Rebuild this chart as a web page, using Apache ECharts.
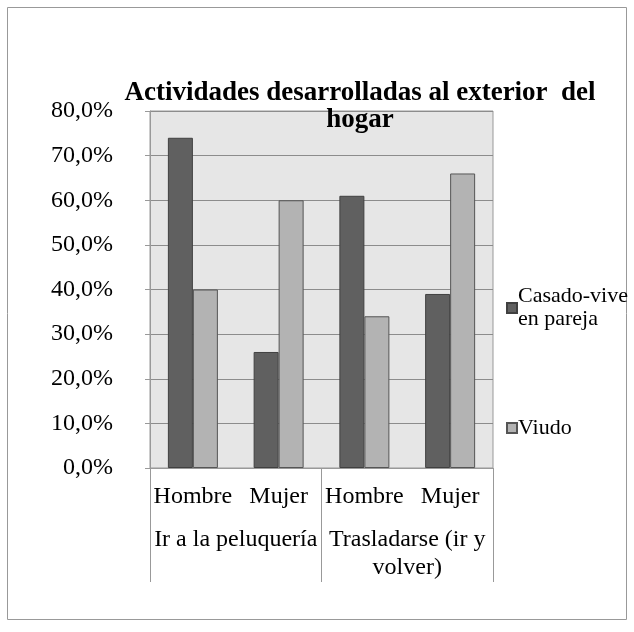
<!DOCTYPE html>
<html>
<head>
<meta charset="utf-8">
<script src="https://cdn.jsdelivr.net/npm/echarts@6/dist/echarts.min.js"></script>
<style>
  html, body { margin: 0; padding: 0; background: #fff; }
  #chart { width: 634px; height: 632px; }
</style>
</head>
<body>
<div id="chart"></div>
<script>
// datos
const subCategories = ['Hombre', 'Mujer', 'Hombre', 'Mujer']
const groupCategories = ['Ir a la peluquería', 'Trasladarse (ir y\nvolver)']
const casadoValues = [74, 26, 61, 39]
const viudoValues = [40, 60, 34, 66]
const seriesNames = ['Casado-vive en pareja', 'Viudo']

const font = 'Liberation Serif'
const chart = echarts.init(document.getElementById('chart'))

const option = {
  animation: false,
  graphic: [
    {
      type: 'rect',
      shape: { x: 7.5, y: 7.5, width: 619, height: 612 },
      style: { fill: 'none', stroke: '#999', lineWidth: 1 },
      silent: true
    }
  ],
  title: {
    text: 'Actividades desarrolladas al exterior  del\nhogar',
    left: 355,
    top: 75,
    textAlign: 'center',
    textStyle: {
      fontFamily: font,
      fontWeight: 'bold',
      fontSize: 27,
      lineHeight: 27,
      color: '#000'
    }
  },
  legend: [
    {
      data: [seriesNames[0]],
      left: 501,
      top: 280,
      icon: 'rect',
      itemWidth: 10,
      itemHeight: 10,
      itemGap: 0,
      formatter: () => 'Casado-vive\nen pareja',
      textStyle: { fontFamily: font, fontSize: 22, lineHeight: 23, color: '#000', padding: [0, 0, 0, -4] }
    },
    {
      data: [seriesNames[1]],
      left: 501,
      top: 412,
      icon: 'rect',
      itemWidth: 10,
      itemHeight: 10,
      textStyle: { fontFamily: font, fontSize: 22, color: '#000', padding: [0, 0, 0, -4] }
    }
  ],
  grid: {
    left: 150,
    right: 141,
    top: 111,
    bottom: 164,
    show: true,
    backgroundColor: '#e6e6e6',
    borderColor: '#999',
    borderWidth: 1
  },
  xAxis: [
    {
      type: 'category',
      data: subCategories,
      position: 'bottom',
      axisLine: { show: true, lineStyle: { color: '#999' } },
      axisTick: { show: false },
      axisLabel: { fontFamily: font, fontSize: 24, color: '#000', margin: 17, interval: 0 }
    },
    {
      type: 'category',
      data: groupCategories,
      position: 'bottom',
      axisLine: { show: false },
      axisTick: { show: true, length: 114, lineStyle: { color: '#999' } },
      axisLabel: { fontFamily: font, fontSize: 24, lineHeight: 28, color: '#000', margin: 58, interval: 0 }
    }
  ],
  yAxis: {
    type: 'value',
    min: 0,
    max: 80,
    interval: 10,
    axisLine: { show: true, lineStyle: { color: '#999' } },
    axisTick: { show: true, length: 5, lineStyle: { color: '#999' } },
    splitLine: { lineStyle: { color: '#8c8c8c' } },
    axisLabel: {
      fontFamily: font,
      fontSize: 24,
      color: '#000',
      margin: 37,
      formatter: v => v.toFixed(1).replace('.', ',') + '%'
    }
  },
  series: [
    {
      name: seriesNames[0],
      type: 'bar',
      xAxisIndex: 0,
      data: casadoValues,
      barWidth: 25,
      barGap: '0%',
      itemStyle: { color: '#606060', borderColor: '#404040', borderWidth: 1 }
    },
    {
      name: seriesNames[1],
      type: 'bar',
      xAxisIndex: 0,
      data: viudoValues,
      barWidth: 25,
      barGap: '0%',
      itemStyle: { color: '#b3b3b3', borderColor: '#555', borderWidth: 1 }
    }
  ]
}
chart.setOption(option)
</script>
</body>
</html>
